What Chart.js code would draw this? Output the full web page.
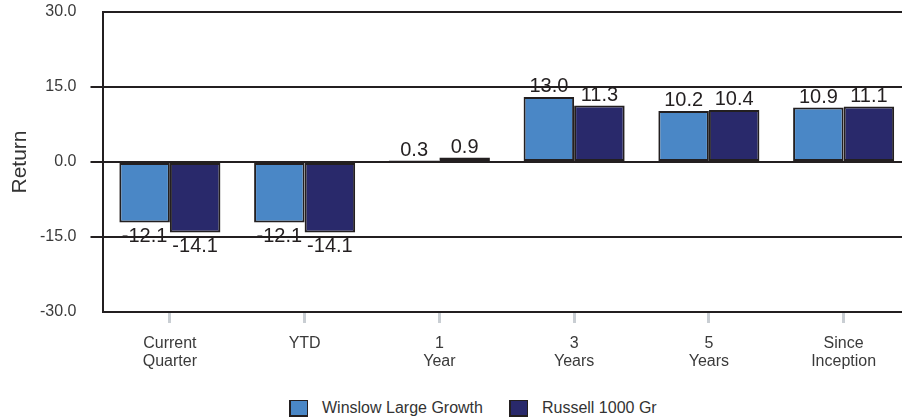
<!DOCTYPE html>
<html>
<head>
<meta charset="utf-8">
<title>Returns</title>
<script src="https://cdn.jsdelivr.net/npm/chart.js@4.4.1/dist/chart.umd.min.js"></script>
<style>
    html, body {
        margin: 0;
        padding: 0;
        background: #ffffff;
        width: 902px;
        height: 419px;
        overflow: hidden;
        font-family: "Liberation Sans", Arial, sans-serif;
    }
    .chart-wrap {
        position: absolute;
        left: 0;
        top: 0;
        width: 911px;
        height: 386px;
    }
    .legend {
        position: absolute;
        left: 289px;
        top: 399px;
        display: flex;
        align-items: center;
        font-size: 16px;
        color: #333333;
    }
    .legend-item {
        display: flex;
        align-items: center;
        margin-right: 26px;
    }
    .legend-box {
        width: 16px;
        height: 14px;
        border-left: 2px solid #231f20;
        border-bottom: 2px solid #231f20;
        border-top: 1px solid #231f20;
        border-right: 1px solid #231f20;
        margin-right: 14px;
    }
</style>
</head>
<body>
<div class="chart-wrap">
    <canvas id="returnsChart"></canvas>
</div>
<div class="legend" id="legend"></div>

<script>
// Periods and returns (%)
const periods = [['Current', 'Quarter'], ['YTD'], ['1', 'Year'], ['3', 'Years'], ['5', 'Years'], ['Since', 'Inception']];
const winslowReturns = [-12.1, -12.1, 0.3, 13.0, 10.2, 10.9];
const russellReturns = [-14.1, -14.1, 0.9, 11.3, 10.4, 11.1];
const seriesNames = ['Winslow Large Growth', 'Russell 1000 Gr'];
const yTicks = [-30, -15, 0, 15, 30];

const lineColor = '#231f20';

// Writes each bar's value just past its end
const barValueLabels = {
    id: 'barValueLabels',
    afterDatasetsDraw(chart) {
        const ctx = chart.ctx;
        ctx.save();
        ctx.font = '20px "Liberation Sans", Arial, sans-serif';
        ctx.fillStyle = lineColor;
        ctx.textAlign = 'center';
        ctx.textBaseline = 'alphabetic';
        chart.data.datasets.forEach((ds, i) => {
            chart.getDatasetMeta(i).data.forEach((bar, j) => {
                const v = ds.data[j];
                const y = v >= 0 ? bar.y - 5 : bar.y + 19;
                ctx.fillText(v.toFixed(1), bar.x, y);
            });
        });
        ctx.restore();
    }
};

function initializeReturnsChart() {
    const ctx = document.getElementById('returnsChart').getContext('2d');

    const data = {
        labels: periods,
        datasets: [{
            label: seriesNames[0],
            data: winslowReturns,
            backgroundColor: '#4a87c6',
            borderColor: lineColor,
            borderWidth: 2,
            borderSkipped: false
        }, {
            label: seriesNames[1],
            data: russellReturns,
            backgroundColor: '#29296b',
            borderColor: lineColor,
            borderWidth: 2,
            borderSkipped: false
        }]
    };

    const config = {
        type: 'bar',
        data: data,
        options: {
            responsive: true,
            maintainAspectRatio: false,
            animation: false,
            layout: {
                padding: { top: 12, right: 0, bottom: 0, left: 0 }
            },
            datasets: {
                bar: {
                    categoryPercentage: 0.75,
                    barPercentage: 1.0
                }
            },
            plugins: {
                legend: { display: false },
                tooltip: { enabled: false }
            },
            scales: {
                y: {
                    min: -30,
                    max: 30,
                    afterBuildTicks: scale => {
                        scale.ticks = yTicks.map(v => ({ value: v }));
                    },
                    afterFit: scale => {
                        // fixed axis width; label padding shouldn't push the plot down
                        scale.width = 102.5;
                        scale.paddingTop = 0;
                        scale.paddingBottom = 0;
                    },
                    border: {
                        display: true,
                        color: lineColor,
                        width: 2
                    },
                    grid: {
                        color: lineColor,
                        lineWidth: 2,
                        tickLength: 12,
                        tickColor: c => (Math.abs(c.tick.value) === 30 ? 'rgba(0,0,0,0)' : lineColor)
                    },
                    ticks: {
                        padding: 14,
                        color: '#3a3a3a',
                        font: { family: '"Liberation Sans", Arial, sans-serif', size: 16 },
                        callback: v => Number(v).toFixed(1)
                    },
                    title: {
                        display: true,
                        text: 'Return',
                        color: '#333333',
                        padding: { top: 8, bottom: 0 },
                        font: { family: '"Liberation Sans", Arial, sans-serif', size: 21 }
                    }
                },
                x: {
                    afterFit: scale => {
                        scale.height = 74;
                    },
                    border: {
                        display: true,
                        color: lineColor,
                        width: 2
                    },
                    grid: {
                        offset: false,
                        drawOnChartArea: false,
                        tickLength: 11,
                        tickWidth: 3,
                        tickColor: '#c9ced3'
                    },
                    ticks: {
                        padding: 11,
                        maxRotation: 0,
                        color: '#3a3a3a',
                        font: { family: '"Liberation Sans", Arial, sans-serif', size: 16, lineHeight: 1.15 }
                    }
                }
            }
        },
        plugins: [barValueLabels]
    };

    const chart = new Chart(ctx, config);

    // Legend row under the chart
    const legend = document.getElementById('legend');
    chart.data.datasets.forEach(ds => {
        const item = document.createElement('div');
        item.className = 'legend-item';
        const box = document.createElement('span');
        box.className = 'legend-box';
        box.style.background = ds.backgroundColor;
        const text = document.createElement('span');
        text.textContent = ds.label;
        item.appendChild(box);
        item.appendChild(text);
        legend.appendChild(item);
    });
}

document.addEventListener('DOMContentLoaded', initializeReturnsChart);
</script>
</body>
</html>
